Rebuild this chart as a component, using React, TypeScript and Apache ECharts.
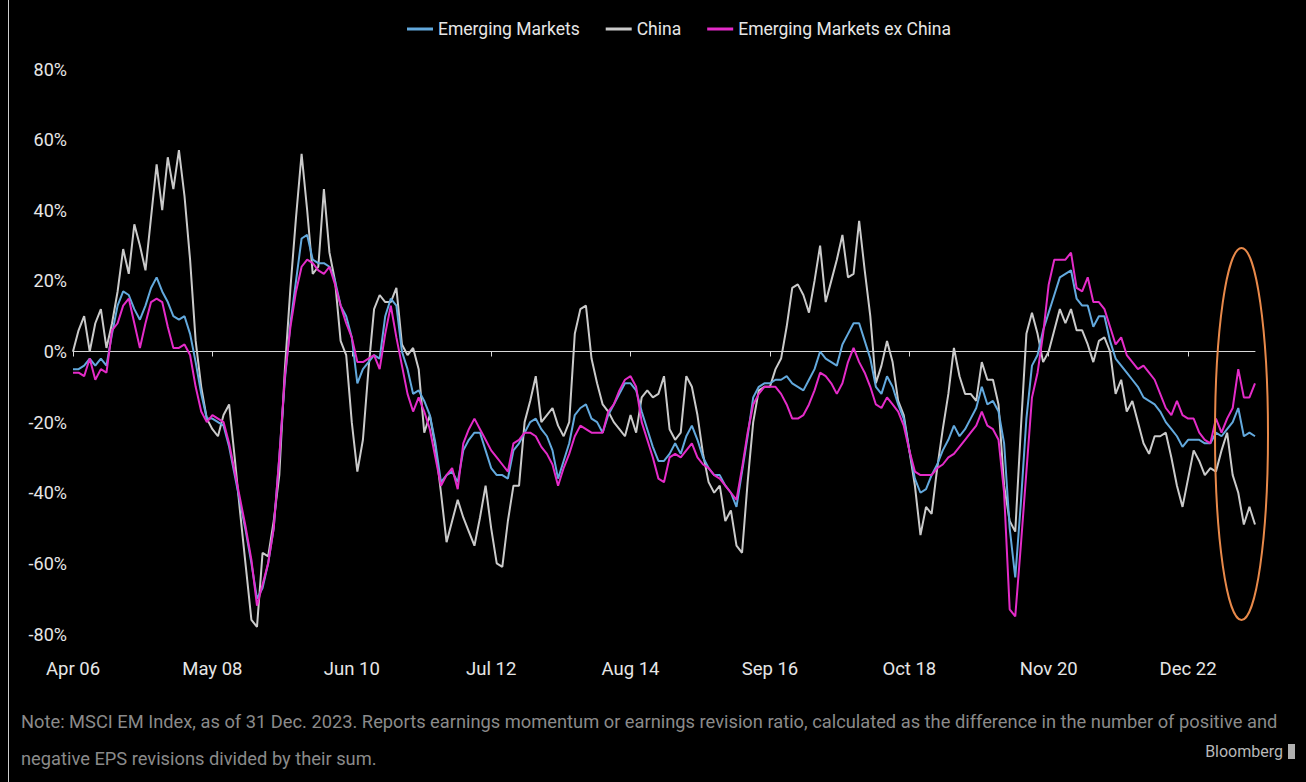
import React, { useEffect, useRef } from "react";
import * as echarts from "echarts";

const START_YEAR = 2006;
const START_MONTH = 3; // April (0-based)
const MONTHS = ["Jan", "Feb", "Mar", "Apr", "May", "Jun", "Jul", "Aug", "Sep", "Oct", "Nov", "Dec"];
const N_MONTHS = 213;

const categories: string[] = [];
for (let k = 0; k < N_MONTHS; k++) {
  const m = (START_MONTH + k) % 12;
  const y = START_YEAR + Math.floor((START_MONTH + k) / 12);
  categories.push(`${MONTHS[m]} ${String(y % 100).padStart(2, "0")}`);
}

const yTicks = [-80, -60, -40, -20, 0, 20, 40, 60, 80];

const china = [
  0, 6, 10, 0, 8, 12, 1, 8, 17, 29, 22, 36, 30, 23, 38, 53, 40, 55, 46, 57, 44, 26, 3, -10, -19, -22,
  -24, -18, -15, -30, -46, -61, -76, -78, -57, -58, -48, -35, -5, 18, 38, 56, 40, 22, 24, 46, 28, 20, 3, -1, -20, -34,
  -25, -5, 12, 16, 14, 14, 18, 2, -1, 1, -5, -23, -18, -27, -40, -54, -48, -42, -47, -51, -55, -47, -38, -50, -60, -61, -48, -38, -38,
  -20, -14, -7, -20, -18, -16, -21, -24, -20, 5, 12, 13, -2, -9, -15, -17, -20, -22, -24, -18, -23, -13, -11, -13, -12, -7,
  -22, -25, -23, -7, -10, -18, -29, -37, -40, -38, -48, -45, -55, -57, -37, -20, -11, -10, -10, -5, -2, 7, 18, 19, 16, 11, 20, 30,
  14, 20, 26, 33, 21, 22, 37, 23, 10, -9, -4, 3, -3, -14, -18, -28, -38, -52, -44, -46, -33, -22, -12, 1, -7, -12, -12,
  -14, -3, -8, -8, -15, -38, -48, -51, -22, 5, 11, 5, -3, 0, 6, 12, 8, 12, 6, 6, 2, -3, 3,
  4, 0, -12, -8, -17, -14, -20, -26, -29, -24, -24, -23, -30, -38, -44, -36, -28, -31, -35, -33, -34, -28, -23, -35, -40, -49, -44, -49,
];

const emergingMarkets = [
  -5, -5, -4, -2, -4, -2, -4, 5, 13, 17, 16, 12, 9, 13, 18, 21, 17, 14, 10, 9, 10, 5, -3, -12, -19, -19,
  -20, -21, -27, -35, -43, -51, -60, -70, -67, -60, -50, -30, -8, 8, 20, 32, 33, 26, 25, 25, 24, 20, 13, 10, 4, -9,
  -5, -3, -1, -2, 10, 15, 13, 0, -5, -12, -11, -14, -18, -26, -37, -35, -34, -37, -28, -25, -23, -23, -28, -33, -35, -35, -36, -28, -26,
  -23, -20, -19, -22, -24, -28, -36, -31, -26, -18, -16, -15, -19, -20, -23, -18, -15, -12, -9, -9, -11, -17, -22, -27, -31, -31,
  -29, -26, -29, -24, -21, -25, -30, -33, -35, -35, -38, -40, -44, -34, -24, -13, -10, -9, -9, -8, -8, -7, -9, -10, -11, -8, -5, 0,
  -2, -3, -4, 2, 5, 8, 8, 3, -2, -10, -12, -7, -10, -15, -19, -28, -36, -40, -39, -35, -32, -28, -25, -21, -24, -22, -19,
  -16, -10, -15, -14, -17, -26, -50, -64, -43, -19, -4, -1, 6, 11, 16, 21, 22, 23, 15, 13, 13, 7, 10,
  10, 3, -2, -4, -6, -8, -10, -13, -14, -15, -17, -20, -22, -24, -27, -25, -25, -25, -26, -26, -23, -24, -22, -20, -16, -24, -23, -24,
];

const emExChina = [
  -6, -6, -7, -2, -8, -5, -6, 6, 8, 13, 15, 8, 1, 8, 14, 15, 14, 7, 1, 1, 2, -1, -10, -17, -20, -18,
  -19, -20, -26, -34, -42, -50, -59, -72, -66, -60, -50, -30, -7, 7, 17, 24, 26, 25, 23, 22, 24, 19, 13, 8, 4, -3,
  -3, -2, -1, -5, 5, 13, 4, -4, -12, -17, -13, -17, -22, -30, -38, -35, -33, -39, -26, -22, -19, -22, -25, -28, -30, -32, -34, -26, -25,
  -23, -23, -24, -27, -29, -32, -38, -33, -29, -24, -21, -22, -23, -23, -23, -17, -15, -11, -8, -7, -10, -20, -25, -30, -36, -37,
  -30, -29, -30, -28, -26, -30, -32, -33, -35, -36, -38, -40, -42, -33, -23, -15, -12, -10, -10, -10, -12, -15, -19, -19, -18, -15, -11, -6,
  -7, -9, -12, -9, -3, 1, -3, -6, -10, -15, -16, -13, -15, -17, -21, -28, -34, -35, -35, -35, -33, -32, -30, -29, -27, -25, -23,
  -21, -17, -21, -22, -25, -40, -73, -75, -55, -34, -13, -6, 5, 19, 26, 26, 26, 28, 18, 17, 21, 14, 14,
  12, 7, 2, 4, -1, -3, -5, -4, -6, -8, -12, -16, -18, -14, -18, -19, -19, -23, -25, -26, -19, -23, -19, -16, -5, -13, -13, -9,
];

const seriesNames = ["Emerging Markets", "China", "Emerging Markets ex China"];
const noteLines = [
  "Note: MSCI EM Index, as of 31 Dec. 2023. Reports earnings momentum or earnings revision ratio, calculated as the difference in the number of positive and",
  "negative EPS revisions divided by their sum.",
];

const FONT = "Roboto, 'Liberation Sans', sans-serif";

export default function App() {
  const ref = useRef<HTMLDivElement>(null);

  useEffect(() => {
    if (!ref.current) return;
    const chart = echarts.init(ref.current, null, { renderer: "svg" });
    chart.setOption({
      animation: false,
      backgroundColor: "#000000",
      textStyle: { fontFamily: FONT },
      legend: {
        data: seriesNames,
        top: 15,
        left: 402,
        itemWidth: 26,
        itemHeight: 3,
        itemGap: 26,
        icon: "rect",
        textStyle: { color: "#e6e6e6", fontSize: 17.5, fontFamily: FONT },
      },
      grid: { left: 73, right: 51, top: 69, bottom: 148, containLabel: false },
      xAxis: [
        {
          type: "category",
          data: categories,
          boundaryGap: false,
          axisLine: { show: true, onZero: true, lineStyle: { color: "#d8d8d8", width: 1 } },
          axisTick: { show: true, interval: 24, length: 5, lineStyle: { color: "#d8d8d8" } },
          axisLabel: { show: false },
          splitLine: { show: false },
        },
        {
          type: "category",
          data: categories,
          boundaryGap: false,
          position: "bottom",
          axisLine: { show: false, onZero: false },
          axisTick: { show: false },
          axisLabel: {
            show: true,
            interval: 24,
            margin: 25,
            color: "#e6e6e6",
            fontSize: 18.5,
            fontFamily: FONT,
          },
          splitLine: { show: false },
        },
      ],
      yAxis: {
        type: "value",
        min: yTicks[0],
        max: yTicks[yTicks.length - 1],
        interval: 20,
        axisLine: { show: false },
        axisTick: { show: false },
        splitLine: { show: false },
        axisLabel: {
          formatter: "{value}%",
          color: "#e6e6e6",
          fontSize: 18,
          margin: 6,
          fontFamily: FONT,
        },
      },
      series: [
        {
          name: seriesNames[1],
          type: "line",
          data: china,
          showSymbol: false,
          color: "#cacaca",
          lineStyle: { width: 2, color: "#cacaca" },
          z: 2,
        },
        {
          name: seriesNames[0],
          type: "line",
          data: emergingMarkets,
          showSymbol: false,
          color: "#63a9dd",
          lineStyle: { width: 2, color: "#63a9dd" },
          z: 3,
        },
        {
          name: seriesNames[2],
          type: "line",
          data: emExChina,
          showSymbol: false,
          color: "#e42bc8",
          lineStyle: { width: 2, color: "#e42bc8" },
          z: 4,
        },
      ],
      graphic: [
        {
          type: "line",
          shape: { x1: 8.5, y1: 0, x2: 8.5, y2: 782 },
          style: { stroke: "#cfcfcf", lineWidth: 1 },
        },
        {
          type: "ellipse",
          shape: { cx: 1241.5, cy: 434, rx: 26.5, ry: 186 },
          style: { fill: "none", stroke: "#e8894a", lineWidth: 2 },
          z: 10,
        },
        {
          type: "text",
          x: 21,
          y: 712,
          style: { text: noteLines[0], fill: "#8a8a8a", fontSize: 18.3, fontFamily: FONT },
        },
        {
          type: "text",
          x: 21,
          y: 749,
          style: { text: noteLines[1], fill: "#8a8a8a", fontSize: 18.3, fontFamily: FONT },
        },
        {
          type: "text",
          x: 1283,
          y: 743,
          style: { text: "Bloomberg", fill: "#b8b8b8", fontSize: 16, fontFamily: FONT, align: "right" },
        },
        {
          type: "rect",
          shape: { x: 1288, y: 744, width: 7, height: 15 },
          style: { fill: "#b0b0b0" },
        },
      ],
    });
    return () => chart.dispose();
  }, []);

  return (
    <div
      ref={ref}
      style={{ position: "fixed", left: 0, top: 0, width: 1306, height: 782, background: "#000" }}
    />
  );
}
